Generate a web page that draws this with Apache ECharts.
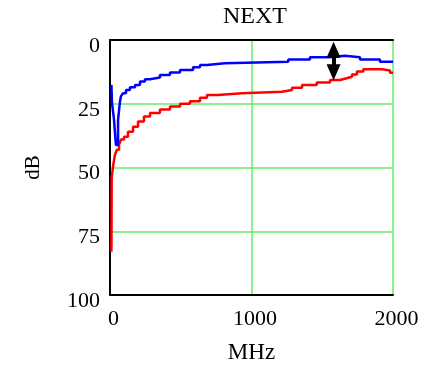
<!DOCTYPE html>
<html>
<head>
<meta charset="utf-8">
<script src="https://cdn.jsdelivr.net/npm/echarts@6/dist/echarts.min.js"></script>
<style>html,body{margin:0;padding:0;background:#fff}#c{width:422px;height:365px}</style>
</head>
<body>
<div id="c"></div>
<script>
const titleText = 'NEXT';
const xName = 'MHz';
const yName = 'dB';
const xTicks = [0, 1000, 2000];
const yTicks = [0, 25, 50, 75, 100];

const freqBlue = [10, 14, 28, 42, 57, 64, 71, 78, 92, 113, 141, 177, 212, 247, 283, 353, 424, 495, 587, 636, 685, 812, 1260, 1413, 1545, 1660, 1767, 1908, 2000];
const nextBlue = [17.6, 24.7, 31, 41.2, 31.4, 27.5, 24, 22, 20.9, 19.6, 18.5, 17.6, 16.3, 15.4, 14.7, 13.7, 12.7, 11.8, 10.7, 9.8, 9.1, 8.5, 7.6, 6.8, 6.2, 6.8, 7.6, 8.5, 8.5];

const freqRed = [10, 12, 23, 35, 49, 64, 78, 99, 127, 163, 198, 240, 283, 353, 424, 495, 565, 636, 685, 763, 933, 1215, 1286, 1357, 1461, 1555, 1625, 1672, 1710, 1745, 1790, 1922, 1979, 2000];
const nextRed = [83, 54, 49, 45, 43, 41, 39, 37.9, 36, 34, 32, 30, 28.6, 27.3, 26.1, 25, 24, 22.6, 21.6, 20.9, 20.3, 19.6, 18.7, 17.6, 16.7, 15.7, 15, 14.4, 13.5, 12.4, 11.5, 12, 12.8, 12.8];

const arrowFreq = [1580];
const arrowTop = [3.8];
const arrowBottom = [12.6];

const font = 'Liberation Serif';
const gridGreen = '#66ee66';

const zip = (a, b) => a.map((v, i) => [v, b[i]]);

const chart = echarts.init(document.getElementById('c'), null, {renderer: 'canvas'});
chart.setOption({
  animation: false,
  backgroundColor: '#fff',
  title: {
    text: titleText, left: 218, top: 0,
    textStyle: {fontFamily: font, fontSize: 24, fontWeight: 'normal', color: '#000'}
  },
  grid: {left: 110, right: 29, top: 40, bottom: 70, containLabel: false, outerBoundsMode: 'none'},
  xAxis: [{
    type: 'value', min: xTicks[0], max: xTicks[xTicks.length - 1], interval: xTicks[1] - xTicks[0],
    position: 'bottom',
    name: xName, nameLocation: 'middle', nameGap: 46,
    nameTextStyle: {fontFamily: font, fontSize: 23, color: '#000'},
    axisLine: {show: true, onZero: false, lineStyle: {color: '#000', width: 2}},
    axisTick: {show: false},
    axisLabel: {
      margin: 13,
      formatter: v => '{a|' + String(v) + '}',
      rich: {a: {fontFamily: font, fontSize: 22, color: '#000', padding: [0, 0, 0, 7]}}
    },
    splitLine: {show: true, lineStyle: {color: gridGreen, width: 1.5}}
  }, {
    type: 'value', min: xTicks[0], max: xTicks[xTicks.length - 1], position: 'top',
    axisLine: {show: true, onZero: false, lineStyle: {color: '#000', width: 2}},
    axisTick: {show: false}, axisLabel: {show: false}, splitLine: {show: false}
  }],
  yAxis: {
    type: 'value', inverse: true, min: yTicks[0], max: yTicks[yTicks.length - 1], interval: yTicks[1] - yTicks[0],
    name: yName, nameLocation: 'middle', nameGap: 66, nameRotate: 90,
    nameTextStyle: {fontFamily: font, fontSize: 21, color: '#000'},
    axisLine: {show: true, onZero: false, lineStyle: {color: '#000', width: 2}},
    axisTick: {show: false},
    axisLabel: {
      margin: 10,
      formatter: v => '{a|' + String(v) + '}',
      rich: {a: {fontFamily: font, fontSize: 22, color: '#000', padding: [12, 0, 0, 0]}}
    },
    splitLine: {show: true, lineStyle: {color: gridGreen, width: 1.5}}
  },
  series: [{
    type: 'line', step: 'end', data: zip(freqRed, nextRed), showSymbol: false,
    lineStyle: {color: '#ff0000', width: 2.5}, z: 3
  }, {
    type: 'line', step: 'end', data: zip(freqBlue, nextBlue), showSymbol: false,
    lineStyle: {color: '#0000ff', width: 2.5}, z: 4,
  }, {
    type: 'line', data: [], z: 5,
    markLine: {
      silent: true, animation: false,
      symbol: ['triangle', 'triangle'], symbolSize: [14, 16],
      label: {show: false},
      lineStyle: {color: '#000', width: 4, type: 'solid'},
      data: arrowFreq.map((f, i) => [{coord: [f, arrowTop[i]]}, {coord: [f, arrowBottom[i]]}])
    }
  }]
});
</script>
</body>
</html>
